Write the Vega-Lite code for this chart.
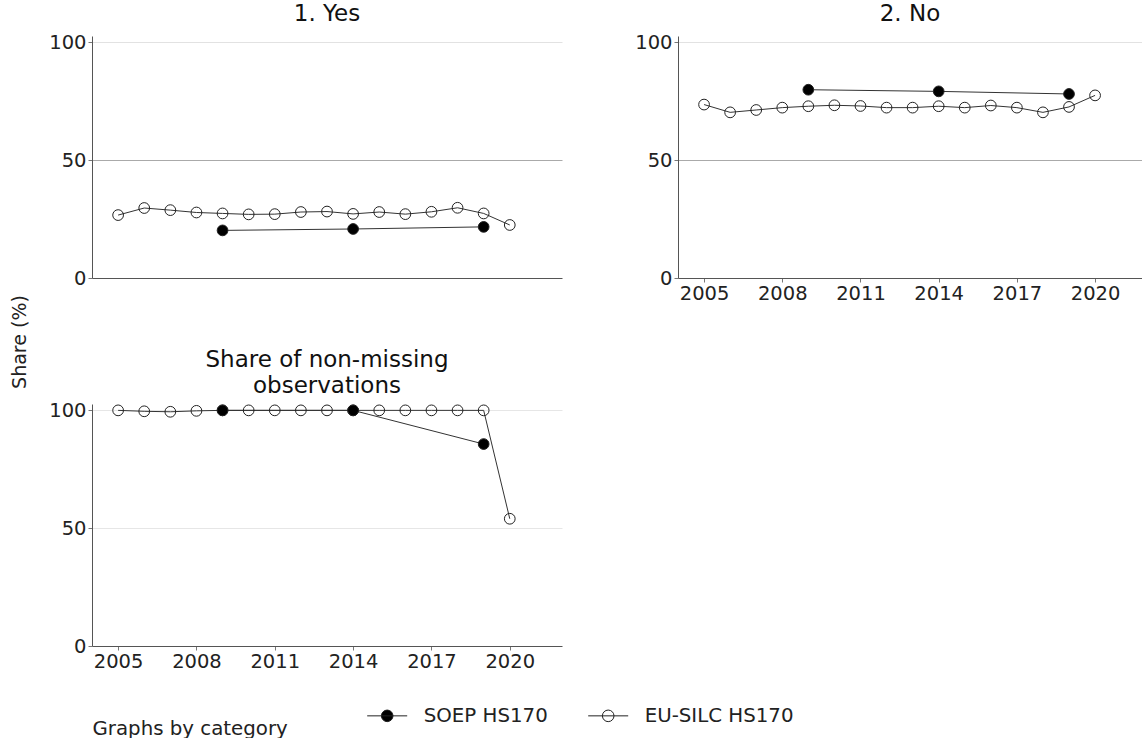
{
  "$schema": "https://vega.github.io/schema/vega-lite/v6.json",
  "padding": {"left": 10, "top": 2, "right": 0, "bottom": 0},
  "background": "white",
  "datasets": {
    "d": [
      {"category": "1. Yes", "series": "EU-SILC HS170", "year": 2005, "value": 26.7},
      {"category": "1. Yes", "series": "EU-SILC HS170", "year": 2006, "value": 29.7},
      {"category": "1. Yes", "series": "EU-SILC HS170", "year": 2007, "value": 28.8},
      {"category": "1. Yes", "series": "EU-SILC HS170", "year": 2008, "value": 27.8},
      {"category": "1. Yes", "series": "EU-SILC HS170", "year": 2009, "value": 27.4},
      {"category": "1. Yes", "series": "EU-SILC HS170", "year": 2010, "value": 27.0},
      {"category": "1. Yes", "series": "EU-SILC HS170", "year": 2011, "value": 27.1},
      {"category": "1. Yes", "series": "EU-SILC HS170", "year": 2012, "value": 28.0},
      {"category": "1. Yes", "series": "EU-SILC HS170", "year": 2013, "value": 28.2},
      {"category": "1. Yes", "series": "EU-SILC HS170", "year": 2014, "value": 27.2},
      {"category": "1. Yes", "series": "EU-SILC HS170", "year": 2015, "value": 28.0},
      {"category": "1. Yes", "series": "EU-SILC HS170", "year": 2016, "value": 27.1},
      {"category": "1. Yes", "series": "EU-SILC HS170", "year": 2017, "value": 28.1},
      {"category": "1. Yes", "series": "EU-SILC HS170", "year": 2018, "value": 29.8},
      {"category": "1. Yes", "series": "EU-SILC HS170", "year": 2019, "value": 27.4},
      {"category": "1. Yes", "series": "EU-SILC HS170", "year": 2020, "value": 22.5},
      {"category": "1. Yes", "series": "SOEP HS170", "year": 2009, "value": 20.2},
      {"category": "1. Yes", "series": "SOEP HS170", "year": 2014, "value": 20.8},
      {"category": "1. Yes", "series": "SOEP HS170", "year": 2019, "value": 21.7},
      {"category": "2. No", "series": "EU-SILC HS170", "year": 2005, "value": 73.6},
      {"category": "2. No", "series": "EU-SILC HS170", "year": 2006, "value": 70.3},
      {"category": "2. No", "series": "EU-SILC HS170", "year": 2007, "value": 71.3},
      {"category": "2. No", "series": "EU-SILC HS170", "year": 2008, "value": 72.3},
      {"category": "2. No", "series": "EU-SILC HS170", "year": 2009, "value": 72.9},
      {"category": "2. No", "series": "EU-SILC HS170", "year": 2010, "value": 73.3},
      {"category": "2. No", "series": "EU-SILC HS170", "year": 2011, "value": 73.0},
      {"category": "2. No", "series": "EU-SILC HS170", "year": 2012, "value": 72.3},
      {"category": "2. No", "series": "EU-SILC HS170", "year": 2013, "value": 72.3},
      {"category": "2. No", "series": "EU-SILC HS170", "year": 2014, "value": 72.9},
      {"category": "2. No", "series": "EU-SILC HS170", "year": 2015, "value": 72.3},
      {"category": "2. No", "series": "EU-SILC HS170", "year": 2016, "value": 73.2},
      {"category": "2. No", "series": "EU-SILC HS170", "year": 2017, "value": 72.3},
      {"category": "2. No", "series": "EU-SILC HS170", "year": 2018, "value": 70.3},
      {"category": "2. No", "series": "EU-SILC HS170", "year": 2019, "value": 72.6},
      {"category": "2. No", "series": "EU-SILC HS170", "year": 2020, "value": 77.5},
      {"category": "2. No", "series": "SOEP HS170", "year": 2009, "value": 79.9},
      {"category": "2. No", "series": "SOEP HS170", "year": 2014, "value": 79.2},
      {"category": "2. No", "series": "SOEP HS170", "year": 2019, "value": 78.1},
      {"category": "share", "series": "EU-SILC HS170", "year": 2005, "value": 100},
      {"category": "share", "series": "EU-SILC HS170", "year": 2006, "value": 99.6},
      {"category": "share", "series": "EU-SILC HS170", "year": 2007, "value": 99.4},
      {"category": "share", "series": "EU-SILC HS170", "year": 2008, "value": 99.8},
      {"category": "share", "series": "EU-SILC HS170", "year": 2009, "value": 100},
      {"category": "share", "series": "EU-SILC HS170", "year": 2010, "value": 100},
      {"category": "share", "series": "EU-SILC HS170", "year": 2011, "value": 100},
      {"category": "share", "series": "EU-SILC HS170", "year": 2012, "value": 100},
      {"category": "share", "series": "EU-SILC HS170", "year": 2013, "value": 100},
      {"category": "share", "series": "EU-SILC HS170", "year": 2014, "value": 100},
      {"category": "share", "series": "EU-SILC HS170", "year": 2015, "value": 100},
      {"category": "share", "series": "EU-SILC HS170", "year": 2016, "value": 100},
      {"category": "share", "series": "EU-SILC HS170", "year": 2017, "value": 100},
      {"category": "share", "series": "EU-SILC HS170", "year": 2018, "value": 100},
      {"category": "share", "series": "EU-SILC HS170", "year": 2019, "value": 100},
      {"category": "share", "series": "EU-SILC HS170", "year": 2020, "value": 54.0},
      {"category": "share", "series": "SOEP HS170", "year": 2009, "value": 100},
      {"category": "share", "series": "SOEP HS170", "year": 2014, "value": 100},
      {"category": "share", "series": "SOEP HS170", "year": 2019, "value": 85.7}
    ]
  },
  "columns": 2,
  "spacing": {"row": 126, "column": 116},
  "bounds": "flush",
  "concat": [
    {
      "width": 470,
      "height": 242,
      "title": {"text": "1. Yes", "baseline": "bottom", "offset": -16.6},
      "data": {"name": "d"},
      "transform": [{"filter": "datum.category === '1. Yes'"}],
      "encoding": {
        "x": {"field": "year", "type": "quantitative", "scale": {"domain": [2004, 2022], "nice": false, "zero": false},
              "axis": {"values": [2005, 2008, 2011, 2014, 2017, 2020], "labels": false, "ticks": false, "title": null}},
        "y": {"field": "value", "type": "quantitative", "scale": {"domain": [0, 102.7], "nice": false},
              "axis": {"values": [0, 50, 100], "grid": true,
                       "gridColor": {"condition": [{"test": "datum.value === 0", "value": "transparent"}, {"test": "datum.value === 50", "value": "#aaaaaa"}], "value": "#e2e2e2"},
                       "title": "Share (%)", "titleX": -72.5, "titleY": 305.5, "titleAngle": -90, "titleAlign": "center", "titleBaseline": "middle"}}
      },
      "layer": [
        {"mark": {"type": "line", "color": "#333333", "strokeWidth": 1}, "encoding": {"detail": {"field": "series"}}},
        {"mark": {"type": "point", "shape": "circle", "size": 115, "filled": true, "opacity": 1, "stroke": "#222222", "strokeWidth": 1},
         "encoding": {"fill": {"field": "series", "type": "nominal", "scale": {"domain": ["SOEP HS170", "EU-SILC HS170"], "range": ["#000000", "transparent"]},
           "legend": {"orient": "none", "legendX": 274.7, "legendY": 659, "direction": "horizontal", "title": null}}}}
      ]
    },
    {
      "width": 464,
      "height": 242,
      "title": {"text": "2. No", "baseline": "bottom", "offset": -16.6},
      "data": {"name": "d"},
      "transform": [{"filter": "datum.category === '2. No'"}],
      "encoding": {
        "x": {"field": "year", "type": "quantitative", "scale": {"domain": [2004, 2021.8], "nice": false, "zero": false},
              "axis": {"values": [2005, 2008, 2011, 2014, 2017, 2020], "format": "d", "title": null}},
        "y": {"field": "value", "type": "quantitative", "scale": {"domain": [0, 102.7], "nice": false},
              "axis": {"values": [0, 50, 100], "grid": true,
                       "gridColor": {"condition": [{"test": "datum.value === 0", "value": "transparent"}, {"test": "datum.value === 50", "value": "#aaaaaa"}], "value": "#e2e2e2"},
                       "title": null}}
      },
      "layer": [
        {"mark": {"type": "line", "color": "#333333", "strokeWidth": 1}, "encoding": {"detail": {"field": "series"}}},
        {"mark": {"type": "point", "shape": "circle", "size": 115, "filled": true, "opacity": 1, "stroke": "#222222", "strokeWidth": 1},
         "encoding": {"fill": {"field": "series", "type": "nominal"}}}
      ]
    },
    {
      "width": 470,
      "height": 242,
      "title": {"text": ["Share of non-missing", "observations"], "baseline": "bottom", "offset": -21, "lineHeight": 26},
      "data": {"name": "d"},
      "transform": [{"filter": "datum.category === 'share'"}],
      "encoding": {
        "x": {"field": "year", "type": "quantitative", "scale": {"domain": [2004, 2022], "nice": false, "zero": false},
              "axis": {"values": [2005, 2008, 2011, 2014, 2017, 2020], "format": "d",
                       "title": "Graphs by category", "titleFontSize": 19.8, "titleX": 0, "titleY": 88, "titleAlign": "left", "titleBaseline": "alphabetic", "titleAngle": 0}},
        "y": {"field": "value", "type": "quantitative", "scale": {"domain": [0, 102.7], "nice": false},
              "axis": {"values": [0, 50, 100], "grid": true,
                       "gridColor": {"condition": {"test": "datum.value === 0", "value": "transparent"}, "value": "#e6e6e6"},
                       "title": null}}
      },
      "layer": [
        {"mark": {"type": "line", "color": "#333333", "strokeWidth": 1}, "encoding": {"detail": {"field": "series"}}},
        {"mark": {"type": "point", "shape": "circle", "size": 115, "filled": true, "opacity": 1, "stroke": "#222222", "strokeWidth": 1},
         "encoding": {"fill": {"field": "series", "type": "nominal"}}}
      ]
    }
  ],
  "config": {
    "font": "DejaVu Sans",
    "view": {"stroke": null},
    "axis": {
      "labelFont": "DejaVu Sans", "labelFontSize": 19.5, "labelColor": "#222222",
      "domainColor": "#555555", "domainWidth": 1, "tickColor": "#777777", "tickSize": 4, "labelPadding": 2,
      "grid": false, "gridWidth": 1,
      "titleFont": "DejaVu Sans", "titleFontSize": 19, "titleFontWeight": "normal", "titleColor": "#222222"
    },
    "title": {"font": "DejaVu Sans", "fontSize": 23, "fontWeight": "normal", "color": "#111111", "anchor": "middle"},
    "legend": {
      "padding": 0,
      "symbolType": "M-1,0H1M-0.29,0A0.29,0.29 0 1,0 0.29,0A0.29,0.29 0 1,0 -0.29,0",
      "symbolSize": 1600,
      "symbolStrokeColor": "#222222",
      "symbolStrokeWidth": 1,
      "labelFont": "DejaVu Sans", "labelFontSize": 19.8, "labelColor": "#222222",
      "labelOffset": 16, "columnPadding": 37
    }
  }
}
